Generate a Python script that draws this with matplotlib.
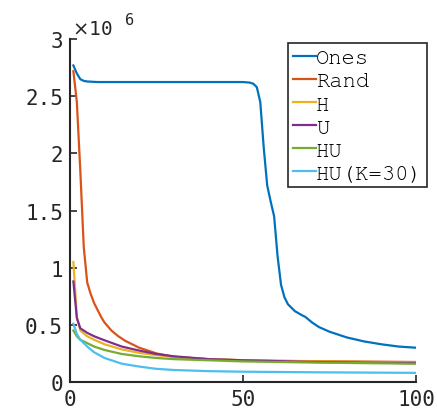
import matplotlib
matplotlib.use("Agg")
import matplotlib.pyplot as plt

# Values in units of 1e6
x_ones = [1, 2, 3, 4, 5, 8, 20, 40, 50, 52, 53, 54, 55, 56, 57, 58, 59, 60, 61, 62, 63, 65, 67, 68, 70, 72, 75, 80, 85, 90, 95, 100]
y_ones = [2.77, 2.70, 2.65, 2.635, 2.63, 2.625, 2.625, 2.625, 2.625, 2.62, 2.61, 2.58, 2.45, 2.05, 1.72, 1.58, 1.45, 1.10, 0.85, 0.74, 0.68, 0.62, 0.585, 0.57, 0.52, 0.48, 0.44, 0.39, 0.355, 0.33, 0.31, 0.30]

x_rand = [1, 2, 3, 4, 5, 6, 7, 8, 9, 10, 12, 14, 16, 18, 20, 25, 30, 40, 50, 60, 80, 100]
y_rand = [2.72, 2.45, 1.85, 1.18, 0.87, 0.77, 0.69, 0.63, 0.57, 0.52, 0.45, 0.40, 0.36, 0.33, 0.30, 0.25, 0.22, 0.20, 0.19, 0.185, 0.18, 0.175]

x_h = [1, 2, 3, 5, 7, 10, 15, 20, 25, 30, 40, 50, 70, 100]
y_h = [1.05, 0.57, 0.45, 0.40, 0.37, 0.33, 0.285, 0.255, 0.235, 0.22, 0.20, 0.19, 0.18, 0.17]

x_u = [1, 2, 3, 5, 7, 10, 15, 20, 25, 30, 40, 50, 70, 100]
y_u = [0.88, 0.56, 0.47, 0.43, 0.40, 0.365, 0.31, 0.275, 0.245, 0.225, 0.20, 0.19, 0.175, 0.165]

x_hu = [1, 2, 3, 5, 7, 10, 15, 20, 25, 30, 40, 50, 70, 100]
y_hu = [0.45, 0.40, 0.37, 0.34, 0.31, 0.28, 0.245, 0.225, 0.21, 0.20, 0.19, 0.18, 0.17, 0.16]

x_hu30 = [1, 2, 3, 5, 7, 10, 15, 20, 25, 30, 40, 50, 70, 100]
y_hu30 = [0.51, 0.42, 0.37, 0.31, 0.26, 0.21, 0.16, 0.135, 0.115, 0.105, 0.095, 0.09, 0.085, 0.08]

labels = ["Ones", "Rand", "H", "U", "HU", "HU(K=30)"]
colors = ["#0072BD", "#D95319", "#EDB120", "#7E2F8E", "#77AC30", "#4DBEEE"]

xticks = [0, 50, 100]
yticks = [0, 0.5, 1, 1.5, 2, 2.5, 3]
ytick_labels = ["0", "0.5", "1", "1.5", "2", "2.5", "3"]

fig = plt.figure(figsize=(4.37, 4.14), dpi=100)
ax = fig.add_axes([0.160, 0.0749, 0.792, 0.828])

series = [(x_ones, y_ones), (x_rand, y_rand), (x_h, y_h), (x_u, y_u), (x_hu, y_hu), (x_hu30, y_hu30)]
for (xs, ys), lab, c in zip(series, labels, colors):
    ax.plot(xs, ys, color=c, lw=1.6, label=lab)

ax.set_xlim(0, 100)
ax.set_ylim(0, 3)
ax.set_xticks(xticks)
ax.set_xticklabels([str(t) for t in xticks])
ax.set_yticks(yticks)
ax.set_yticklabels(ytick_labels)

for s in ["top", "right"]:
    ax.spines[s].set_visible(False)
for s in ["left", "bottom"]:
    ax.spines[s].set_linewidth(1.5)
    ax.spines[s].set_color("#262626")

mono = "DejaVu Sans Mono"
ax.tick_params(direction="in", length=5, width=1.2, colors="#262626",
               labelsize=15, pad=5)
for t in ax.get_xticklabels() + ax.get_yticklabels():
    t.set_fontfamily(mono)

ax.text(0.005, 1.014, r"$\times$10", transform=ax.transAxes, fontsize=14,
        family=mono, color="#262626", ha="left", va="baseline")
ax.text(0.159, 1.044, "6", transform=ax.transAxes, fontsize=11,
        family=mono, color="#262626", ha="left", va="baseline")

leg = ax.legend(loc="upper right", bbox_to_anchor=(1.032, 0.988),
                prop={"family": "FreeMono", "size": 16},
                frameon=True, fancybox=False, handlelength=1.05,
                handletextpad=0.0, labelspacing=0.16, borderpad=0.2,
                borderaxespad=0.0)
leg.get_frame().set_edgecolor("#262626")
leg.get_frame().set_linewidth(1.2)
leg.get_frame().set_alpha(1)

fig.savefig("out.png", dpi=100)
